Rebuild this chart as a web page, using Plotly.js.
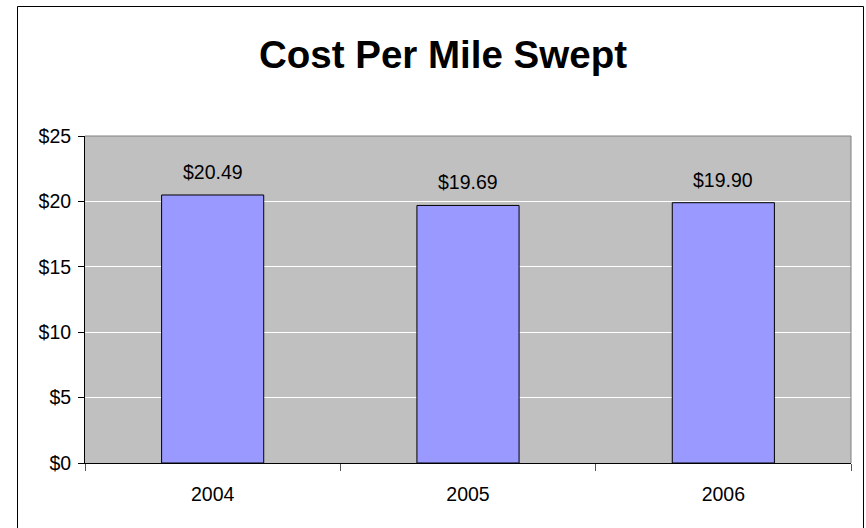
<!DOCTYPE html>
<html>
<head>
<meta charset="utf-8">
<script src="https://cdn.plot.ly/plotly-3.0.1.min.js"></script>
<style>
  html, body { margin: 0; padding: 0; background: #ffffff; }
  #chart { width: 866px; height: 528px; }
</style>
</head>
<body>
<div id="chart"></div>
<script>
// Cost per mile swept, by year
const years = ['2004', '2005', '2006'];
const costPerMile = [20.49, 19.69, 19.90];

const FONT = 'Liberation Sans, Arial, sans-serif';

const bars = {
  type: 'bar',
  x: years,
  y: costPerMile,
  marker: { color: '#9999FF', line: { color: '#000000', width: 1 } },
  hoverinfo: 'skip'
};

// Value labels above each bar (x given as the category index)
const labels = years.map((yr, i) => ({
  x: i,
  y: costPerMile[i],
  xref: 'x',
  yref: 'y',
  text: '$' + costPerMile[i].toFixed(2),
  showarrow: false,
  yanchor: 'bottom',
  yshift: 10,
  font: { family: FONT, size: 19.5, color: '#000000' }
}));

const layout = {
  width: 866,
  height: 528,
  margin: { l: 85, r: 15, t: 136, b: 65 },
  paper_bgcolor: '#ffffff',
  plot_bgcolor: '#C0C0C0',
  showlegend: false,
  bargap: 0.6,
  font: { family: FONT, size: 19.5, color: '#000000' },
  title: {
    text: '<b>Cost Per Mile Swept</b>',
    font: { family: FONT, size: 38.5, color: '#000000' },
    xref: 'container',
    yref: 'container',
    x: 443 / 866,
    xanchor: 'center',
    y: 1 - 55 / 528,
    yanchor: 'middle'
  },
  xaxis: {
    type: 'category',
    range: [-0.5, years.length - 0.5],
    autorange: false,
    showgrid: false,
    showline: true,
    linecolor: '#000000',
    linewidth: 1,
    ticks: 'outside',
    tickson: 'boundaries',
    ticklen: 7,
    tickcolor: '#555555',
    tickwidth: 1,
    tickangle: 0,
    ticklabelstandoff: 14,
    tickfont: { family: FONT, size: 19.5, color: '#000000' }
  },
  yaxis: {
    range: [0, 25],
    autorange: false,
    dtick: 5,
    tickprefix: '$',
    showgrid: true,
    gridcolor: '#ffffff',
    gridwidth: 1,
    zeroline: false,
    showline: true,
    linecolor: '#000000',
    linewidth: 1,
    ticks: 'outside',
    ticklen: 6,
    tickcolor: '#000000',
    tickwidth: 1,
    ticklabelstandoff: 3,
    tickfont: { family: FONT, size: 19.5, color: '#000000' }
  },
  annotations: labels,
  shapes: [
    // grey top and right edges of the plot area
    { type: 'line', xref: 'paper', yref: 'paper', x0: 0, x1: 1, y0: 1, y1: 1,
      line: { color: '#808080', width: 1 } },
    { type: 'line', xref: 'paper', yref: 'paper', x0: 1, x1: 1, y0: 0, y1: 1,
      line: { color: '#808080', width: 1 } },
    // outer chart frame
    { type: 'rect', xref: 'paper', yref: 'paper',
      x0: -0.0881, x1: 1.0163, y0: -0.3, y1: 1.396,
      line: { color: '#000000', width: 1 }, fillcolor: 'rgba(0,0,0,0)' }
  ]
};

Plotly.newPlot('chart', [bars], layout, { staticPlot: true, displayModeBar: false });
</script>
</body>
</html>
